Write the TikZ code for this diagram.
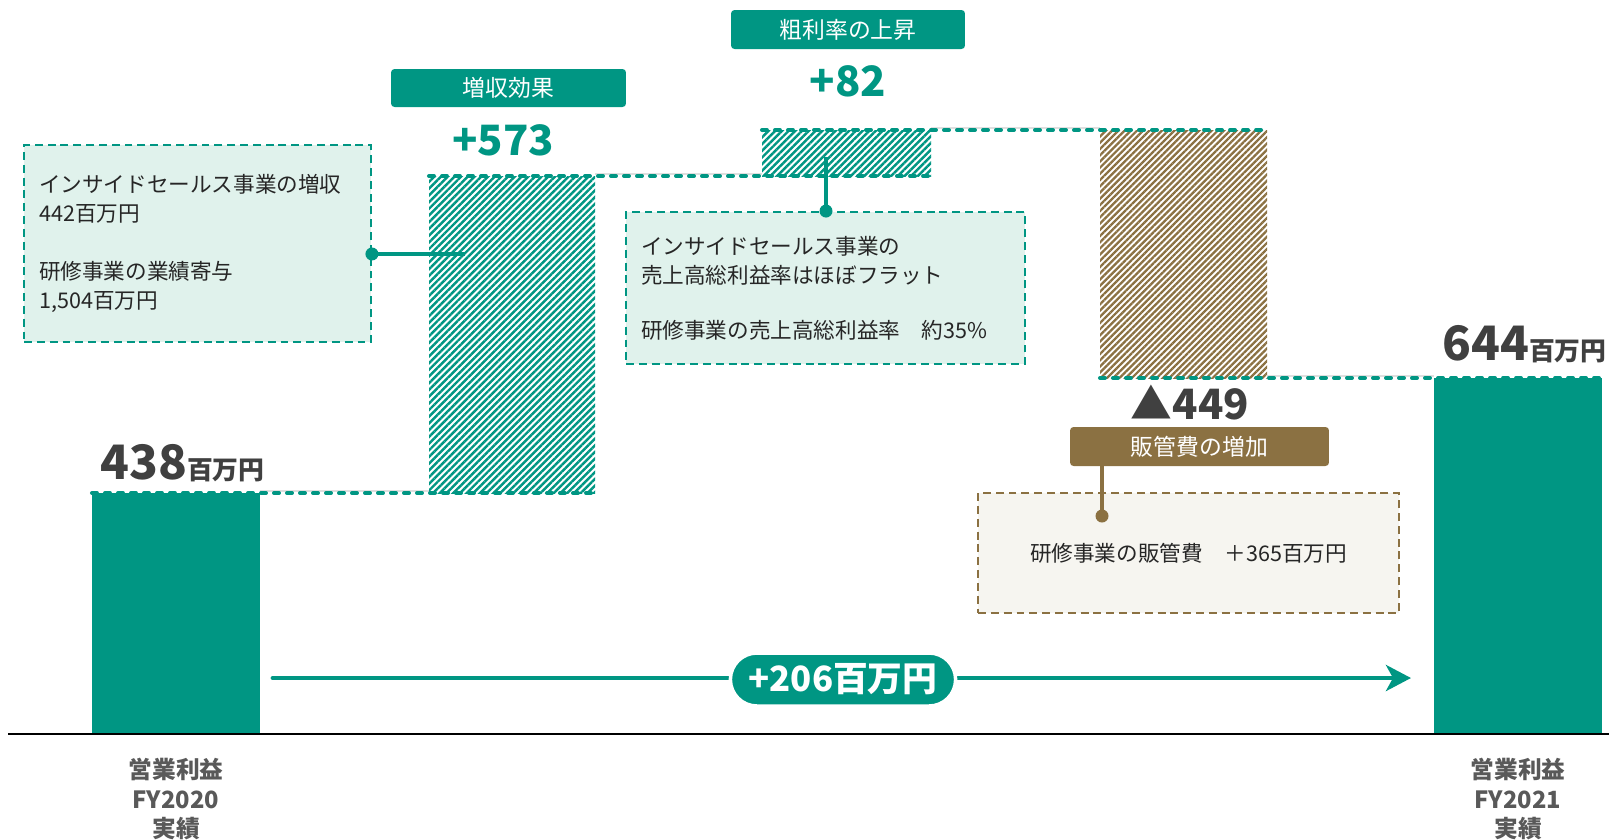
\documentclass[tikz,border=0pt]{standalone}
\usepackage{fontspec}
\setmainfont{Noto Sans CJK JP}
\usepackage{tikz}
\usetikzlibrary{positioning}
\usetikzlibrary{shapes.misc}
\usetikzlibrary{arrows.meta}
\usetikzlibrary{patterns.meta}

\definecolor{gteal}{RGB}{0,150,131}
\definecolor{gmint}{RGB}{224,242,236}
\definecolor{gbrown}{RGB}{139,113,66}
\definecolor{gsand}{RGB}{246,245,240}
\definecolor{gdark}{RGB}{64,64,64}
\definecolor{ggray}{RGB}{89,89,89}

\begin{document}
\begin{tikzpicture}[x=0.02cm, y=-0.02cm,
		tagbox/.style={fill=#1, rounded corners=2pt, text=white, inner sep=0pt, font=\fontsize{13}{13}\selectfont},
		notebox/.style={draw=#1, line width=1.1pt, dash pattern=on 4.5pt off 2.8pt, inner xsep=0.3cm, inner ysep=0pt, text=black!85, font=\fontsize{12.3}{16.4}\selectfont},
		joinline/.style={gteal, line width=2.3pt, dash pattern=on 2.8pt off 4.6pt, line cap=round},
		gapline/.style={gray!25, line width=0.8pt},
		tie/.style={#1, line width=2.8pt},
		deltanum/.style={inner sep=0pt, anchor=base, font=\fontsize{23.8}{24}\selectfont\bfseries},
		totalnum/.style={inner sep=0pt, anchor=base west, text=gdark, font=\fontsize{27}{27}\selectfont\bfseries},
		axislabel/.style={align=center, text=ggray, font=\fontsize{13.5}{17}\selectfont\bfseries}]
	\useasboundingbox (0,0) rectangle (1609,839);
	
	% bars
	\fill[gteal] (92,734) rectangle (260,493);
	\fill[pattern={Lines[angle=45,distance=2.7pt,line width=1.4pt]}, pattern color=gteal] (429,493) rectangle (595,176);
	\fill[pattern={Lines[angle=45,distance=2.7pt,line width=1.4pt]}, pattern color=gteal] (762,176) rectangle (931,130);
	\fill[pattern={Lines[angle=45,distance=2.5pt,line width=1.3pt]}, pattern color=gbrown] (1100,130) rectangle (1267,378);
	\fill[gteal] (1434,734) rectangle (1602,378);
	\draw[black, line width=1.1pt] (8,734) -- (1609,734);
	
	% levels
	\draw[gapline] (260,491) -- (429,491);
	\draw[gapline] (595,174) -- (762,174);
	\draw[gapline] (931,128) -- (1100,128);
	\draw[gapline] (1267,376) -- (1434,376);
	\draw[joinline] (92,493) -- (595,493);
	\draw[joinline] (429,176) -- (931,176);
	\draw[joinline] (762,130) -- (1267,130);
	\draw[joinline] (1100,378) -- (1602,378);
	
	\node[totalnum] (fy20val) at (100,479) {438{\fontsize{14.7}{15}\selectfont 百万円}};
	\node[totalnum] (fy21val) at (1442,360) {644{\fontsize{14.7}{15}\selectfont 百万円}};
	
	\node[tagbox=gteal, minimum width=4.7cm, minimum height=0.76cm] (uptag) at (508.5,88) {増収効果};
	\node[tagbox=gteal, minimum width=4.68cm, minimum height=0.78cm] (gmtag) at (848,29.5) {粗利率の上昇};
	\node[tagbox=gbrown, minimum width=5.18cm, minimum height=0.78cm] (sgatag) at (1199.5,446.5) {販管費の増加};
	
	\node[deltanum, text=gteal] (upval) at (503,155) {+573};
	\node[deltanum, text=gteal] (gmval) at (848,96) {+82};
	\node[deltanum, text=gdark] (sgaval) at (1190,419) {▲449};
	
	% callouts
	\node[notebox=gteal, fill=gmint, minimum width=6.94cm, minimum height=3.94cm, text width=6.34cm, align=left] (upnote) at (197.5,243.5) {インサイドセールス事業の増収\\442百万円\\[16.4pt]研修事業の業績寄与\\1,504百万円};
	\node[notebox=gteal, fill=gmint, minimum width=7.98cm, minimum height=3.04cm, text width=7.38cm, align=left] (gmnote) at (825.5,288) {インサイドセールス事業の\\売上高総利益率はほぼフラット\\[15pt]研修事業の売上高総利益率　約35\%};
	\node[notebox=gbrown, fill=gsand, minimum width=8.42cm, minimum height=2.4cm, align=center] (sganote) at (1188.5,553) {研修事業の販管費　＋365百万円};
	
	\coordinate (upin) at (465,254);
	\coordinate (gmin) at (826,157);
	\coordinate (sgadot) at (1102,516);
	\draw[tie=gteal] (upin) -- (upin -| upnote.east);
	\fill[gteal] (upin -| upnote.east) circle[radius=0.13cm];
	\draw[tie=gteal] (gmin) -- (gmin |- gmnote.north);
	\fill[gteal] (gmin |- gmnote.north) circle[radius=0.13cm];
	\draw[tie=gbrown] (sgadot |- sgatag.south) -- (sgadot);
	\fill[gbrown] (sgadot) circle[radius=0.13cm];
	
	% total change
	\coordinate (arrfrom) at (273,678);
	\coordinate (arrto) at (1411,678);
	\draw[gteal, line width=2.8pt, line cap=round, -{Stealth[length=0.5cm, width=0.52cm, inset=0.14cm]}] (arrfrom) -- (arrto);
	\node[rounded rectangle, fill=gteal, draw=white, line width=2pt, text=white, minimum width=4.74cm, minimum height=1.06cm, font=\fontsize{19.8}{20}\selectfont\bfseries] (diff) at (843,679.5) {+206百万円};
	
	\node[axislabel] (fy20lbl) at (176,799) {営業利益\\FY2020\\実績};
	\node[axislabel] (fy21lbl) at (1518,799) {営業利益\\FY2021\\実績};
\end{tikzpicture}
\end{document}
